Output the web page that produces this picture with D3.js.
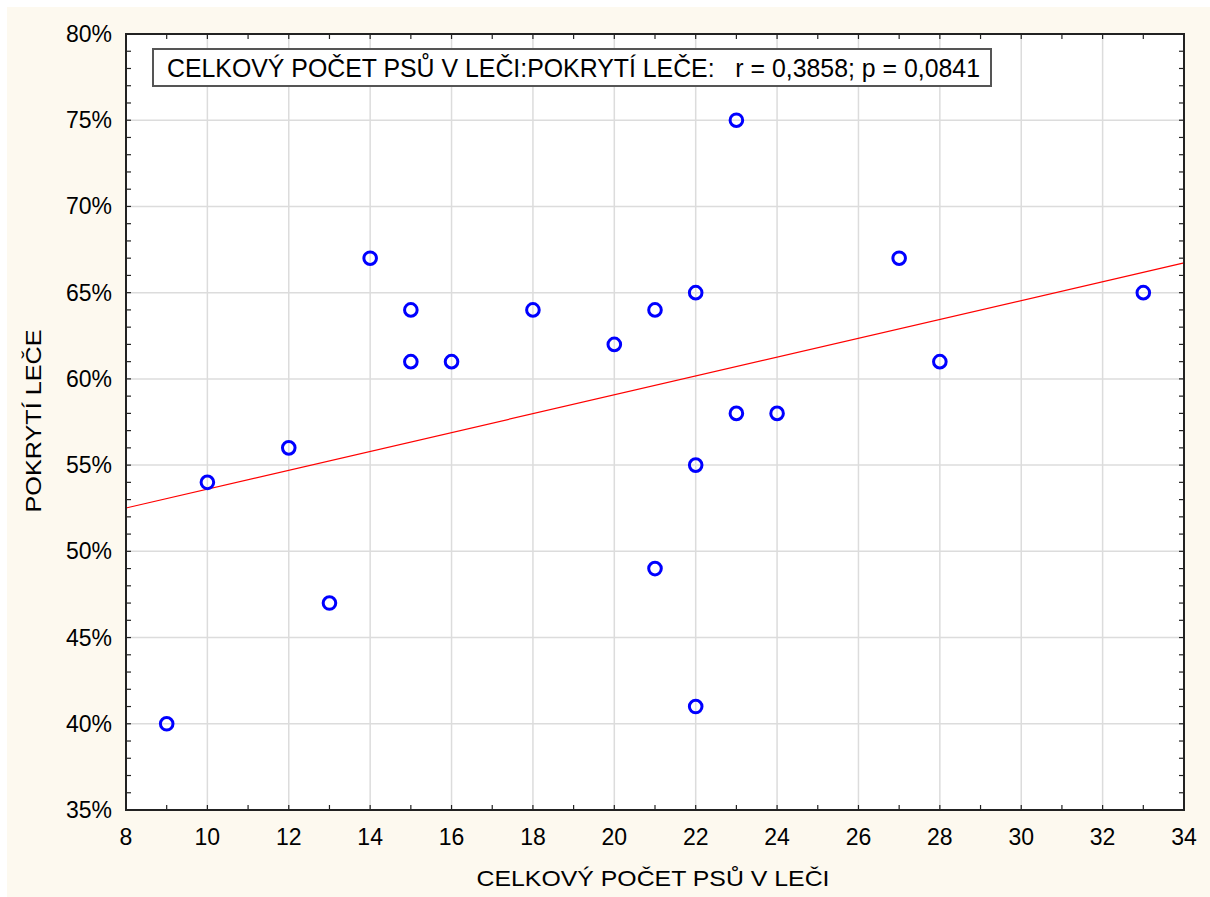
<!DOCTYPE html>
<html>
<head>
<meta charset="utf-8">
<script src="https://cdn.jsdelivr.net/npm/d3@7"></script>
<style>
  body { margin: 0; background: #ffffff; }
  text { font-family: "Liberation Sans", Arial, sans-serif; fill: #000; }
</style>
</head>
<body>
<div id="vis"></div>
<script>
// dogs in the pack (x) vs coverage (y, %)
const dogCounts = [9, 10, 12, 13, 14, 15, 15, 16, 18, 20, 21, 21, 22, 22, 22, 23, 23, 24, 27, 28, 33]
const coverage  = [40, 54, 56, 47, 67, 64, 61, 61, 64, 62, 64, 49, 65, 55, 41, 75, 58, 58, 67, 61, 65]
const xTicks = [8, 10, 12, 14, 16, 18, 20, 22, 24, 26, 28, 30, 32, 34]
const yTicks = [35, 40, 45, 50, 55, 60, 65, 70, 75, 80]
const titleText = 'CELKOVÝ POČET PSŮ V LEČI:POKRYTÍ LEČE:   r = 0,3858; p = 0,0841'
const xTitle = 'CELKOVÝ POČET PSŮ V LEČI'
const yTitle = 'POKRYTÍ LEČE'

const width = 1210, height = 897
const plot = { left: 126, right: 1184, top: 34, bottom: 810 }

const svg = d3.select('#vis').append('svg')
  .attr('width', width)
  .attr('height', height)

// cream background
svg.append('rect')
  .attr('x', 7).attr('y', 7)
  .attr('width', width - 7).attr('height', height - 7)
  .attr('fill', '#fdf9ef')

svg.append('rect')
  .attr('x', plot.left).attr('y', plot.top)
  .attr('width', plot.right - plot.left).attr('height', plot.bottom - plot.top)
  .attr('fill', '#ffffff')

const x = d3.scaleLinear().domain([8, 34]).range([plot.left, plot.right])
const y = d3.scaleLinear().domain([35, 80]).range([plot.bottom, plot.top])

// grid
const grid = svg.append('g')
grid.selectAll('.gx').data(xTicks.slice(1, -1)).enter().append('line')
  .attr('x1', d => x(d)).attr('x2', d => x(d))
  .attr('y1', plot.top).attr('y2', plot.bottom)
  .attr('stroke', '#dcdcdc').attr('stroke-width', 1.5)
grid.selectAll('.gy').data(yTicks.slice(1, -1)).enter().append('line')
  .attr('y1', d => y(d)).attr('y2', d => y(d))
  .attr('x1', plot.left).attr('x2', plot.right)
  .attr('stroke', '#dcdcdc').attr('stroke-width', 1.5)

// inward ticks on all four sides, every unit
const tickLen = 5
const xMinor = d3.range(8, 35, 1)
const yMinor = d3.range(35, 81, 1)
const ticks = svg.append('g').attr('stroke', '#222').attr('stroke-width', 1.2)
xMinor.forEach(v => {
  ticks.append('line').attr('x1', x(v)).attr('x2', x(v)).attr('y1', plot.bottom).attr('y2', plot.bottom - tickLen)
  ticks.append('line').attr('x1', x(v)).attr('x2', x(v)).attr('y1', plot.top).attr('y2', plot.top + tickLen)
})
yMinor.forEach(v => {
  ticks.append('line').attr('y1', y(v)).attr('y2', y(v)).attr('x1', plot.left).attr('x2', plot.left + tickLen)
  ticks.append('line').attr('y1', y(v)).attr('y2', y(v)).attr('x1', plot.right).attr('x2', plot.right - tickLen)
})

// regression line (least squares from the data)
const mx = d3.mean(dogCounts), my = d3.mean(coverage)
let sxy = 0, sxx = 0
dogCounts.forEach((v, i) => { sxy += (v - mx) * (coverage[i] - my); sxx += (v - mx) ** 2 })
const slope = sxy / sxx
const intercept = my - slope * mx
svg.append('line')
  .attr('x1', x(8)).attr('y1', y(intercept + slope * 8))
  .attr('x2', x(34)).attr('y2', y(intercept + slope * 34))
  .attr('stroke', '#ff0000').attr('stroke-width', 1.2)

// frame
svg.append('rect')
  .attr('x', plot.left).attr('y', plot.top)
  .attr('width', plot.right - plot.left).attr('height', plot.bottom - plot.top)
  .attr('fill', 'none').attr('stroke', '#222').attr('stroke-width', 2)

// points
svg.append('g').selectAll('circle')
  .data(dogCounts.map((v, i) => ({ x: v, y: coverage[i] })))
  .enter().append('circle')
  .attr('cx', d => x(d.x))
  .attr('cy', d => y(d.y))
  .attr('r', 6.3)
  .attr('fill', 'none')
  .attr('stroke', '#0000ff')
  .attr('stroke-width', 3)

// tick labels
svg.append('g').selectAll('text').data(xTicks).enter().append('text')
  .attr('x', d => x(d)).attr('y', 845)
  .attr('text-anchor', 'middle')
  .attr('font-size', 23)
  .text(d => d)
svg.append('g').selectAll('text').data(yTicks).enter().append('text')
  .attr('x', 112).attr('y', d => y(d) + 8)
  .attr('text-anchor', 'end')
  .attr('font-size', 23)
  .text(d => d + '%')

// axis titles
svg.append('text')
  .attr('x', 653).attr('y', 886)
  .attr('text-anchor', 'middle')
  .attr('font-size', 22)
  .attr('textLength', 353).attr('lengthAdjust', 'spacingAndGlyphs')
  .text(xTitle)
svg.append('text')
  .attr('transform', 'translate(41,421) rotate(-90)')
  .attr('text-anchor', 'middle')
  .attr('font-size', 22)
  .attr('textLength', 183).attr('lengthAdjust', 'spacingAndGlyphs')
  .text(yTitle)

// header box
svg.append('rect')
  .attr('x', 153).attr('y', 49)
  .attr('width', 838).attr('height', 37)
  .attr('fill', '#ffffff')
  .attr('stroke', '#555').attr('stroke-width', 2)
svg.append('text')
  .attr('x', 167).attr('y', 77)
  .attr('font-size', 25)
  .attr('textLength', 813).attr('lengthAdjust', 'spacingAndGlyphs')
  .style('white-space', 'pre')
  .text(titleText)
</script>
</body>
</html>
